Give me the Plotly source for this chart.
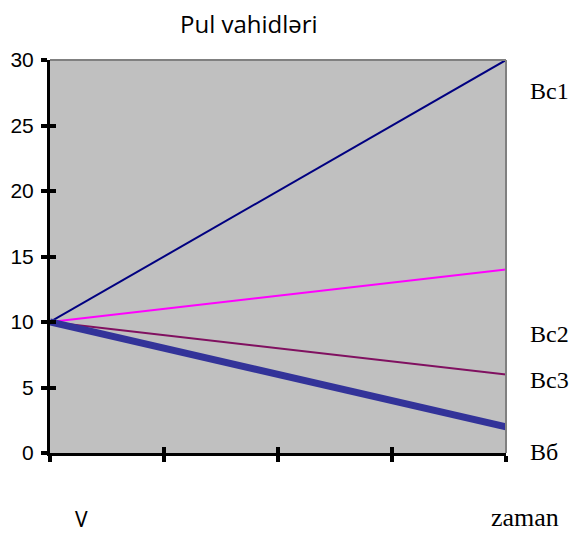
import plotly.graph_objects as go

# data
zaman = [0, 1, 2, 3, 4]
bc1 = [10, 15, 20, 25, 30]
bc2 = [10, 11, 12, 13, 14]
bc3 = [10, 9, 8, 7, 6]
bb = [10, 8, 6, 4, 2]

series = [
    ("Bc1", bc1, "#000080", 2),
    ("Bc2", bc2, "#FF00FF", 2),
    ("Bc3", bc3, "#801060", 2),
    ("Bб", bb, "#333399", 7),
]

fig = go.Figure()
for name, vals, color, width in series:
    fig.add_trace(go.Scatter(x=zaman, y=vals, mode="lines", name=name,
                             line=dict(color=color, width=width), cliponaxis=False))

# dummy trace for the overlay axes (inner half of the crossing ticks)
fig.add_trace(go.Scatter(x=[0], y=[0], xaxis="x2", yaxis="y2", mode="none",
                         showlegend=False, hoverinfo="skip"))

# page has an 8px body margin
W, H = 562, 527
L, R, T, B = 42, 64, 52, 82

fig.update_layout(
    width=W, height=H,
    margin=dict(l=L, r=R, t=T, b=B),
    paper_bgcolor="white",
    plot_bgcolor="#C0C0C0",
    showlegend=False,
    font=dict(family="Liberation Sans, Arial", size=21, color="black"),
    xaxis=dict(range=[0, 4], tickvals=zaman, showticklabels=False, automargin=False,
               showgrid=False, zeroline=False, showline=True, linecolor="black",
               linewidth=3, ticks="outside", ticklen=6, tickwidth=4, tickcolor="black"),
    yaxis=dict(range=[0, 30], dtick=5, showgrid=False, zeroline=False, automargin=False,
               showline=True, linecolor="black", linewidth=3, ticklabelstandoff=3,
               ticks="outside", ticklen=6, tickwidth=4, tickcolor="black"),
    xaxis2=dict(overlaying="x", range=[0, 4], tickvals=zaman, showticklabels=False,
                showgrid=False, zeroline=False, ticks="inside", ticklen=6,
                tickwidth=4, tickcolor="black", anchor="y2", automargin=False),
    yaxis2=dict(overlaying="y", range=[0, 30], dtick=5, showticklabels=False,
                showgrid=False, zeroline=False, ticks="inside", ticklen=6,
                tickwidth=4, tickcolor="black", anchor="x2", automargin=False),
)

# grey top and right border
fig.add_shape(type="line", xref="paper", yref="paper", x0=0, x1=1, y0=1, y1=1,
              line=dict(color="#808080", width=2))
fig.add_shape(type="line", xref="paper", yref="paper", x0=1, x1=1, y0=0, y1=1,
              line=dict(color="#808080", width=2))

serif = dict(family="Liberation Serif, Times New Roman", size=24, color="black")
for name, ypos in [("Bc1", 27.6), ("Bc2", 9.1), ("Bc3", 5.6), ("Bб", 0.1)]:
    fig.add_annotation(text=name, xref="paper", yref="y", x=1.048, y=ypos,
                       xanchor="left", yanchor="middle", showarrow=False, font=serif)

fig.add_annotation(text="Pul vahidləri", xref="paper", yref="paper", x=0.436, y=1.092,
                   xanchor="center", yanchor="middle", showarrow=False,
                   font=dict(family="Open Sans, Noto Sans", size=24))
fig.add_annotation(text="zaman", xref="paper", yref="paper", x=1.042, y=-0.163,
                   xanchor="center", yanchor="middle", showarrow=False,
                   font=dict(family="Liberation Serif", size=26))
fig.add_annotation(text="V", xref="paper", yref="paper", x=0.070, y=-0.168,
                   xanchor="center", yanchor="middle", showarrow=False,
                   font=dict(family="Noto Sans, Open Sans", size=21))

fig.write_html("out.html")
